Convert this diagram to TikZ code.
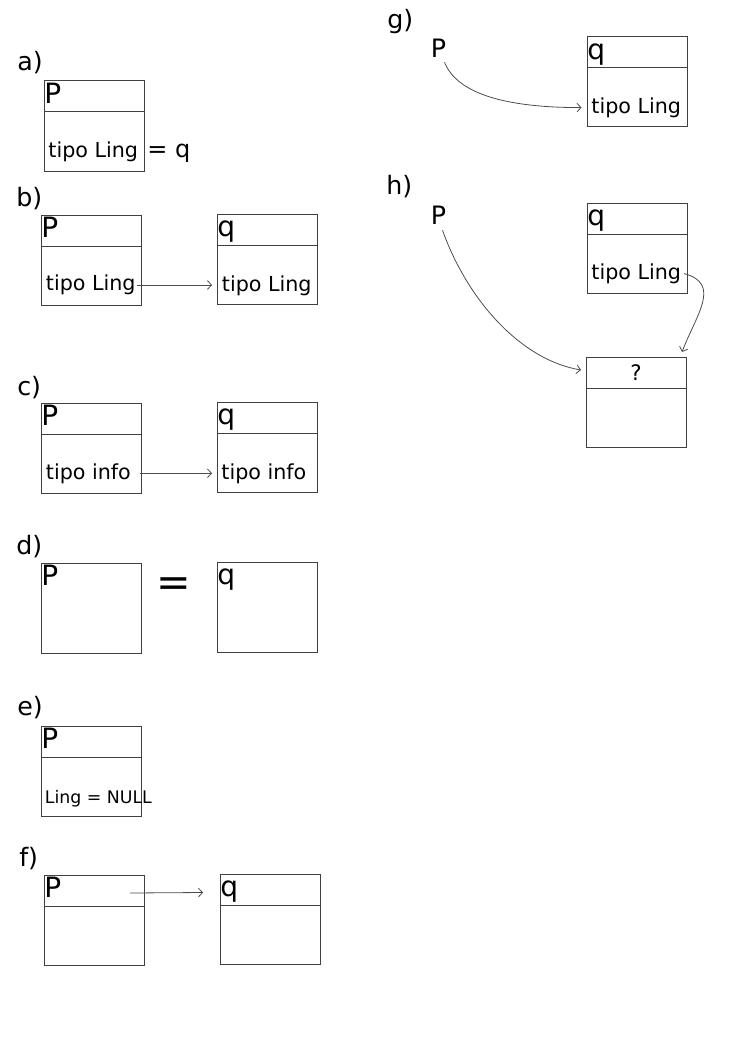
\documentclass[tikz,border=0pt]{standalone}
\usepackage{fontspec}
\setmainfont{DejaVu Sans}
\usetikzlibrary{positioning,calc,arrows.meta}

\tikzset{
  >={Straight Barb[length=3pt,width=6.5pt]},
  cab/.style={draw=black!75, line width=0.75pt, minimum width=75pt,
    minimum height=23.25pt, inner sep=0pt, outer sep=0pt, anchor=north west},
  cuerpo/.style={cab, minimum height=44.25pt},
  entera/.style={cab, minimum height=67.5pt},
  nom/.style={font=\fontsize{21}{25}\selectfont, inner sep=0pt, anchor=base west},
  txt/.style={font=\fontsize{15.5}{18}\selectfont, inner sep=0.5pt, anchor=base west},
  lbl/.style={font=\fontsize{19}{23}\selectfont, inner sep=0pt, anchor=base west},
  flecha/.style={->, draw=black!70, line width=0.6pt}
}

\begin{document}
\begin{tikzpicture}[x=0.75pt,y=-0.75pt]
\useasboundingbox (0,0) rectangle (744,1052);
% etiquetas
\foreach \lab/\x/\y in {a/17/71, b/16/206, c/17/395, d/16/554, e/17/715,
    f/19/866, g/387/28.5, h/386/195}
  \node[lbl] (l\lab) at (\x,\y) {\lab)};
% cajas con cabecera
\foreach \n/\x/\y/\letra in {aP/44/81/P, bP/41/215/P, bq/217/214/q,
    cP/41/403/P, cq/217/402/q, eP/41/726/P, fP/44/875/P, fq/220/874/q,
    gq/587/37/q, hq/587/203/q}{
  \node[cab] (\n) at (\x,\y) {};
  \node[cuerpo, below=0pt of \n] (\n-c) {};
  \node[nom] (\n-n) at ($(\n.north west)+(0,22.5)$) {\letra};
}
% d) cajas sin cabecera
\node[entera] (dP) at (41,563) {};
\node[entera] (dq) at (217,562) {};
\node[nom] (dP-n) at ($(dP.north west)+(0,22.5)$) {P};
\node[nom] (dq-n) at ($(dq.north west)+(0,22.5)$) {q};
\node[font=\fontsize{31}{36}\selectfont, inner sep=0pt, anchor=base] (igual) at (174,596.5) {=};
% h) caja ?
\node[cab, font=\fontsize{16}{19}\selectfont] (hr) at (586,357) {?};
\node[cuerpo, below=0pt of hr] (hr-c) {};
% textos
\node[txt] (aPt) at (47.5,157.3) {tipo Ling};
\node[txt, font=\fontsize{18}{22}\selectfont] (aeq) at (146.5,157) {= q};
\node[txt] (bPt) at (45,290.7) {tipo Ling};
\node[txt] (bqt) at (221,291) {tipo Ling};
\node[txt] (cPt) at (45,479) {tipo info};
\node[txt] (cqt) at (220.5,479) {tipo info};
\node[txt, font=\fontsize{13}{16}\selectfont] (ePt) at (44,803.3) {Ling = NULL};
\node[txt] (gqt) at (590.5,113.3) {tipo Ling};
\node[txt] (hqt) at (590.5,279.3) {tipo Ling};
\node[lbl] (gPn) at (430.6,57.5) {P};
\node[lbl] (hPn) at (430.6,224) {P};
% flechas
\draw[flecha] (bPt.east) -- ($(bq-c.west |- bPt.east)+(-5,0)$);
\draw[flecha] ($(cPt.east)+(8,0)$) -- ($(cq-c.west |- cPt.east)+(-5,0)$);
\draw[flecha] ($(fP.east)+(-14,2.5)$) -- ($(fq.west)+(-17,3)$);
\draw[flecha] ($(gPn.south)+(6,4.5)$) .. controls +(12,30) and +(-80,0) .. ($(gqt.west)+(-9,0)$);
\draw[flecha] ($(hPn.south)+(4,6)$) .. controls +(25,70) and +(-60,-10) .. ($(hr.west)+(-5,-2.5)$);
\draw[flecha] ($(hqt.east)+(2,0)$) .. controls +(38,10) and +(14,-37) .. ($(hr.north east)+(-4,-5)$);
\end{tikzpicture}
\end{document}
